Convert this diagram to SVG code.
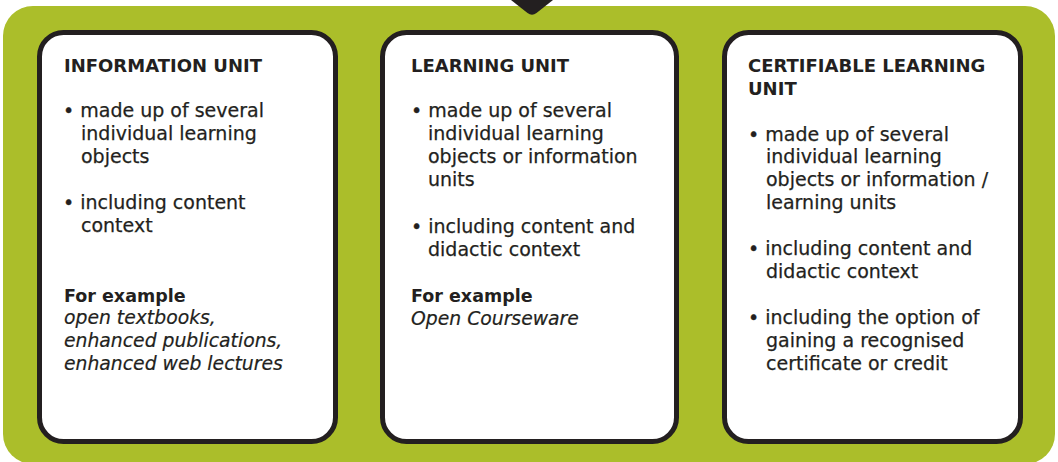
<svg xmlns="http://www.w3.org/2000/svg" width="1058" height="462" viewBox="0 0 1058 462">
<style>
.bg{fill:#abbe2a}
.card{fill:#ffffff;stroke:#231f20;stroke-width:5}
text{font-family:"DejaVu Sans","Liberation Sans",sans-serif;fill:#231f20}
.t{font-size:18px;font-weight:bold}
.b{font-size:19px;stroke:#231f20;stroke-width:0.25}
.h{font-size:17.5px;font-weight:bold}
.i{font-size:18.8px;font-style:italic;stroke:#231f20;stroke-width:0.2}
</style>
<rect class="bg" x="3" y="6" width="1052" height="458" rx="30"/>
<path d="M511,0 L553,0 L536.5,13 Q532,16.5 527.5,13 Z" fill="#231f20"/>
<g id="information-unit">
<rect class="card" x="39.5" y="32.5" width="296" height="409" rx="24"/>
<text class="t" x="64" y="72">INFORMATION UNIT</text>
<text class="b" x="63" y="117">• made up of several</text>
<text class="b" x="81" y="140">individual learning</text>
<text class="b" x="81" y="163">objects</text>
<text class="b" x="63" y="209">• including content</text>
<text class="b" x="81" y="232">context</text>
<text class="h" x="64" y="302">For example</text>
<text class="i" x="64" y="324">open textbooks,</text>
<text class="i" x="64" y="347">enhanced publications,</text>
<text class="i" x="64" y="370">enhanced web lectures</text>
</g>
<g id="learning-unit">
<rect class="card" x="382.5" y="32.5" width="294" height="409" rx="24"/>
<text class="t" x="411" y="72">LEARNING UNIT</text>
<text class="b" x="411" y="117">• made up of several</text>
<text class="b" x="428" y="140">individual learning</text>
<text class="b" x="428" y="163">objects or information</text>
<text class="b" x="428" y="186">units</text>
<text class="b" x="411" y="233">• including content and</text>
<text class="b" x="428" y="256">didactic context</text>
<text class="h" x="411" y="302">For example</text>
<text class="i" x="411" y="325">Open Courseware</text>
</g>
<g id="certifiable-learning-unit">
<rect class="card" x="724.5" y="32.5" width="296" height="409" rx="24"/>
<text class="t" x="748" y="72">CERTIFIABLE LEARNING</text>
<text class="t" x="748" y="95">UNIT</text>
<text class="b" x="748" y="141">• made up of several</text>
<text class="b" x="766" y="163">individual learning</text>
<text class="b" x="766" y="186">objects or information /</text>
<text class="b" x="766" y="209">learning units</text>
<text class="b" x="748" y="255">• including content and</text>
<text class="b" x="766" y="278">didactic context</text>
<text class="b" x="748" y="324">• including the option of</text>
<text class="b" x="766" y="347">gaining a recognised</text>
<text class="b" x="766" y="370">certificate or credit</text>
</g>
<g id="connectors"></g>
</svg>
